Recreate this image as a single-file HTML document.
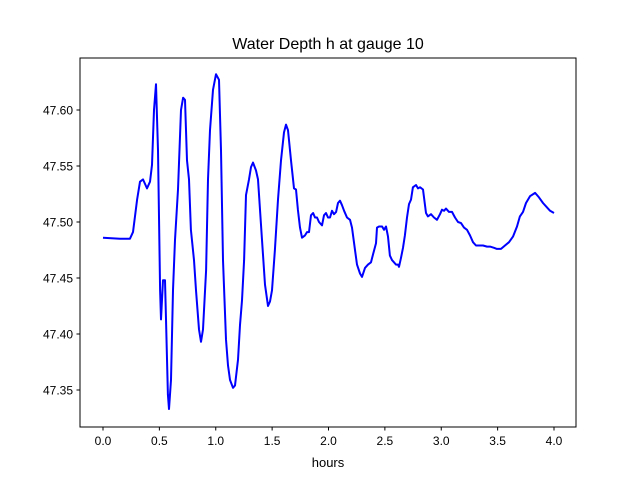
<!DOCTYPE html>
<html><head><meta charset="utf-8"><style>
body{margin:0;background:#fff;}
svg{display:block;font-family:"Liberation Sans","DejaVu Sans",sans-serif;}
</style></head><body>
<svg id="chart" width="640" height="480">
<rect width="640" height="480" fill="#fff"/>
<text x="328" y="49" font-size="16" text-anchor="middle">Water Depth h at gauge 10</text>
<g id="axes"></g>
<rect x="80" y="58" width="496" height="369" fill="none" stroke="#000" stroke-width="1"/>
<text x="328" y="467" font-size="13" text-anchor="middle">hours</text>
</svg>
<script>
const hours=[0,0.151,0.239,0.266,0.302,0.328,0.355,0.390,0.417,0.435,0.452,0.470,0.488,0.506,0.514,0.532,0.550,0.559,0.576,0.585,0.603,0.621,0.639,0.665,0.692,0.710,0.727,0.745,0.763,0.780,0.807,0.825,0.851,0.869,0.887,0.914,0.931,0.949,0.976,1.002,1.029,1.047,1.064,1.091,1.109,1.126,1.153,1.171,1.197,1.215,1.233,1.251,1.268,1.295,1.313,1.330,1.357,1.375,1.410,1.437,1.463,1.481,1.499,1.525,1.552,1.579,1.605,1.623,1.641,1.667,1.694,1.712,1.729,1.747,1.765,1.792,1.809,1.827,1.845,1.863,1.880,1.898,1.916,1.942,1.960,1.978,1.996,2.013,2.031,2.049,2.067,2.084,2.102,2.120,2.138,2.164,2.191,2.208,2.235,2.253,2.279,2.297,2.324,2.350,2.377,2.395,2.421,2.430,2.448,2.475,2.492,2.510,2.528,2.545,2.563,2.581,2.599,2.616,2.625,2.643,2.661,2.678,2.696,2.714,2.732,2.749,2.776,2.794,2.812,2.838,2.865,2.882,2.909,2.936,2.962,2.989,3.007,3.024,3.042,3.069,3.095,3.122,3.149,3.175,3.202,3.228,3.255,3.282,3.308,3.335,3.370,3.406,3.432,3.468,3.494,3.530,3.565,3.601,3.636,3.672,3.698,3.725,3.752,3.787,3.832,3.867,3.902,3.938,3.965,4.000];
const depth=[47.486,47.485,47.485,47.491,47.520,47.536,47.538,47.530,47.536,47.551,47.600,47.623,47.564,47.439,47.413,47.448,47.448,47.413,47.346,47.333,47.359,47.439,47.484,47.529,47.600,47.611,47.609,47.555,47.538,47.493,47.466,47.439,47.404,47.393,47.404,47.457,47.538,47.582,47.618,47.632,47.627,47.564,47.466,47.395,47.372,47.359,47.352,47.354,47.377,47.408,47.430,47.466,47.524,47.538,47.549,47.553,47.546,47.538,47.484,47.444,47.425,47.429,47.439,47.475,47.520,47.555,47.580,47.587,47.582,47.555,47.530,47.529,47.511,47.495,47.486,47.488,47.491,47.491,47.506,47.508,47.504,47.504,47.500,47.497,47.506,47.508,47.504,47.504,47.510,47.507,47.509,47.517,47.519,47.515,47.510,47.504,47.502,47.495,47.475,47.462,47.454,47.451,47.459,47.462,47.464,47.471,47.481,47.495,47.496,47.496,47.493,47.496,47.487,47.470,47.466,47.464,47.462,47.462,47.460,47.468,47.477,47.488,47.504,47.516,47.520,47.531,47.533,47.530,47.531,47.529,47.508,47.505,47.507,47.504,47.502,47.507,47.511,47.510,47.512,47.509,47.509,47.504,47.500,47.499,47.495,47.493,47.488,47.482,47.479,47.479,47.479,47.478,47.478,47.477,47.476,47.476,47.479,47.482,47.487,47.496,47.505,47.509,47.517,47.523,47.526,47.522,47.517,47.513,47.510,47.508];
const xTicks=[0,0.5,1,1.5,2,2.5,3,3.5,4];
const xTickLabels=["0.0","0.5","1.0","1.5","2.0","2.5","3.0","3.5","4.0"];
const yTicks=[47.35,47.40,47.45,47.50,47.55,47.60];
const yTickLabels=["47.35","47.40","47.45","47.50","47.55","47.60"];

const X=t=>103+t*112.75;
const Y=v=>110+(47.60-v)*1120;
const NS="http://www.w3.org/2000/svg";
const g=document.getElementById('axes');
function mk(tag,attrs){const e=document.createElementNS(NS,tag);for(const k in attrs)e.setAttribute(k,attrs[k]);return e;}
xTicks.forEach((t,i)=>{
  const l=mk('line',{x1:X(t),x2:X(t),y1:427,y2:430.5,stroke:'#000'});
  
  
  g.appendChild(l);
  const s=mk('text',{x:X(t),y:445,'font-size':12,'text-anchor':'middle'});
  
  
  s.textContent=xTickLabels[i];g.appendChild(s);
});
yTicks.forEach((v,i)=>{
  const l=mk('line',{x1:76.5,x2:80,y1:Y(v),y2:Y(v),stroke:'#000'});
  
  
  g.appendChild(l);
  const s=mk('text',{x:73,y:Y(v)+4.5,'font-size':12,'text-anchor':'end'});
  
  
  s.textContent=yTickLabels[i];g.appendChild(s);
});
const d=hours.map((t,i)=>(i?'L':'M')+X(t).toFixed(1)+','+Y(depth[i]).toFixed(1)).join(' ');
const p=mk('path',{d:d,fill:'none',stroke:'#0000ff','stroke-width':2,'stroke-linejoin':'round'});


g.appendChild(p);
</script>
</body></html>
